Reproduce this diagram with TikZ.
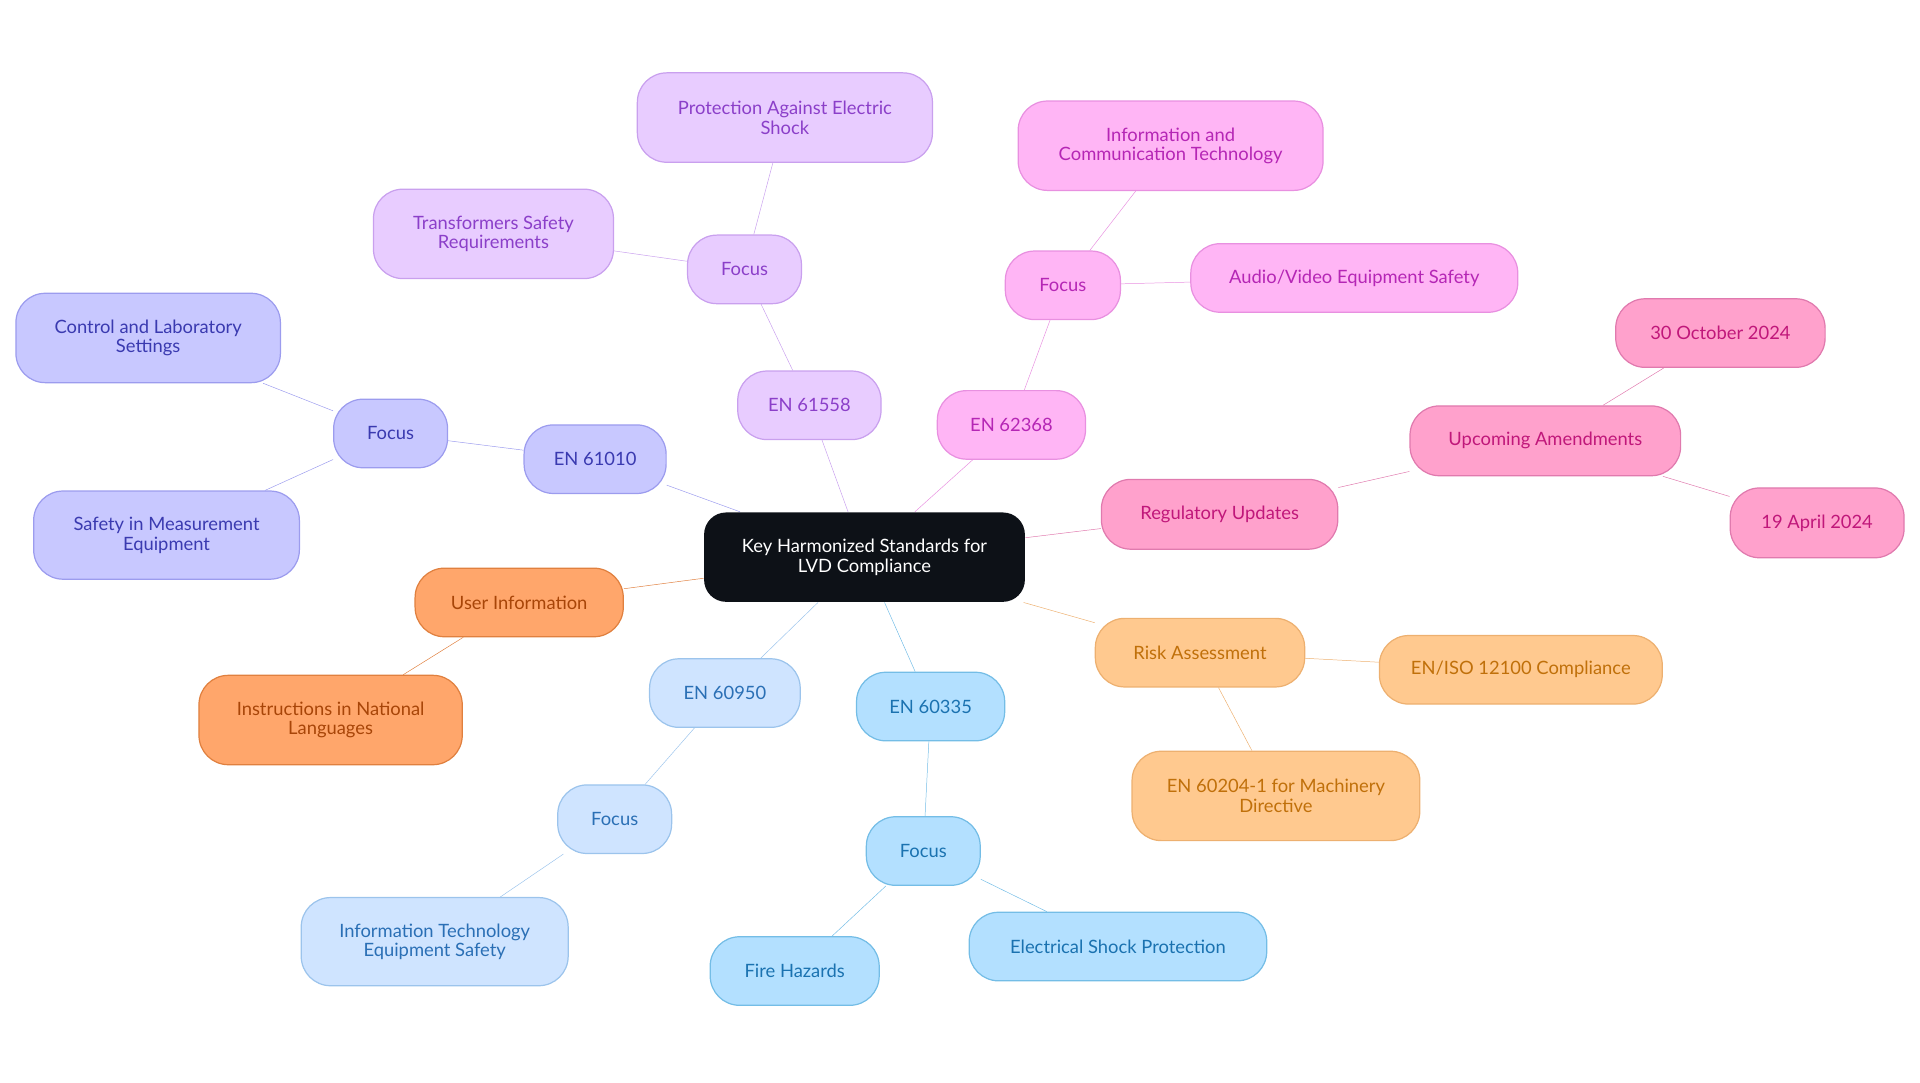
\documentclass[tikz,border=0pt]{standalone}
\usepackage{fontspec}
\setmainfont{Lato}
\usetikzlibrary{backgrounds}

\definecolor{rootfill}{HTML}{0D1117}
\definecolor{pinkfill}{HTML}{FFA1CC}\definecolor{pinkline}{HTML}{E07AAE}\definecolor{pinktext}{HTML}{C0177A}
\definecolor{magfill}{HTML}{FFB5F5}\definecolor{magline}{HTML}{E890E0}\definecolor{magtext}{HTML}{B526B5}
\definecolor{purpfill}{HTML}{E8CCFF}\definecolor{purpline}{HTML}{C9A0EE}\definecolor{purptext}{HTML}{8B3FC9}
\definecolor{indfill}{HTML}{C8C8FF}\definecolor{indline}{HTML}{9C9CEE}\definecolor{indtext}{HTML}{3A3AB0}
\definecolor{orfill}{HTML}{FFA66B}\definecolor{orline}{HTML}{E0803F}\definecolor{ortext}{HTML}{A84508}
\definecolor{ltfill}{HTML}{CFE4FF}\definecolor{ltline}{HTML}{9CC4EC}\definecolor{lttext}{HTML}{2A6FB5}
\definecolor{skyfill}{HTML}{B3E0FF}\definecolor{skyline}{HTML}{74BDE6}\definecolor{skytext}{HTML}{1A72B0}
\definecolor{peachfill}{HTML}{FFC98F}\definecolor{peachline}{HTML}{EDB070}\definecolor{peachtext}{HTML}{C0700A}

\begin{document}
\begin{tikzpicture}[x=1pt,y=-1pt,line width=2pt]
	\tikzstyle{topic}=[rounded corners=24pt,align=center,inner sep=0pt,line width=1pt,
		font=\fontsize{15}{16}\selectfont]
	\tikzstyle{root}=[topic,fill=rootfill,text=white,rounded corners=18pt]
	\tikzstyle{pinkbox}=[topic,fill=pinkfill,draw=pinkline,text=pinktext]
	\tikzstyle{magbox}=[topic,fill=magfill,draw=magline,text=magtext]
	\tikzstyle{purpbox}=[topic,fill=purpfill,draw=purpline,text=purptext]
	\tikzstyle{indbox}=[topic,fill=indfill,draw=indline,text=indtext]
	\tikzstyle{orbox}=[topic,fill=orfill,draw=orline,text=ortext]
	\tikzstyle{ltbox}=[topic,fill=ltfill,draw=ltline,text=lttext]
	\tikzstyle{skybox}=[topic,fill=skyfill,draw=skyline,text=skytext]
	\tikzstyle{peachbox}=[topic,fill=peachfill,draw=peachline,text=peachtext]

	\useasboundingbox (0,0) rectangle (1568,884);

	% Root
	\node[root,minimum width=262pt,minimum height=73pt] (root) at (706,455) {Key Harmonized Standards for\\LVD Compliance};

	% Regulatory updates
	\node[pinkbox,minimum width=193pt,minimum height=57pt] (reg) at (996,420) {Regulatory Updates};
	\node[pinkbox,minimum width=221pt,minimum height=57pt] (amend) at (1262,360) {Upcoming Amendments};
	\node[pinkbox,minimum width=171pt,minimum height=56pt] (oct) at (1405,272) {30 October 2024};
	\node[pinkbox,minimum width=142pt,minimum height=57pt] (apr) at (1484,427) {19 April 2024};

	% EN 62368
	\node[magbox,minimum width=121pt,minimum height=56pt] (en62368) at (826,347) {EN 62368};
	\node[magbox,minimum width=94pt,minimum height=56pt] (f62368) at (868,233) {Focus};
	\node[magbox,minimum width=249pt,minimum height=73pt] (ict) at (956,119) {Information and\\Communication Technology};
	\node[magbox,minimum width=267pt,minimum height=56pt] (av) at (1106,227) {Audio/Video Equipment Safety};

	% EN 61558
	\node[purpbox,minimum width=117pt,minimum height=56pt] (en61558) at (661,331) {EN 61558};
	\node[purpbox,minimum width=93pt,minimum height=56pt] (f61558) at (608,220) {Focus};
	\node[purpbox,minimum width=241pt,minimum height=73pt] (shock) at (641,96) {Protection Against Electric\\Shock};
	\node[purpbox,minimum width=196pt,minimum height=73pt] (trans) at (403,191) {Transformers Safety\\Requirements};

	% EN 61010
	\node[indbox,minimum width=116pt,minimum height=56pt] (en61010) at (486,375) {EN 61010};
	\node[indbox,minimum width=93pt,minimum height=56pt] (f61010) at (319,354) {Focus};
	\node[indbox,minimum width=216pt,minimum height=73pt] (lab) at (121,276) {Control and Laboratory\\Settings};
	\node[indbox,minimum width=217pt,minimum height=72pt] (meas) at (136,437) {Safety in Measurement\\Equipment};

	% User information
	\node[orbox,minimum width=170pt,minimum height=56pt] (user) at (424,492) {User Information};
	\node[orbox,minimum width=215pt,minimum height=73pt] (lang) at (270,588) {Instructions in National\\Languages};

	% EN 60950
	\node[ltbox,minimum width=123pt,minimum height=56pt] (en60950) at (592,566) {EN 60950};
	\node[ltbox,minimum width=93pt,minimum height=56pt] (f60950) at (502,669) {Focus};
	\node[ltbox,minimum width=218pt,minimum height=72pt] (ite) at (355,769) {Information Technology\\Equipment Safety};

	% EN 60335
	\node[skybox,minimum width=121pt,minimum height=56pt] (en60335) at (760,577) {EN 60335};
	\node[skybox,minimum width=93pt,minimum height=56pt] (f60335) at (754,695) {Focus};
	\node[skybox,minimum width=138pt,minimum height=56pt] (fire) at (649,793) {Fire Hazards};
	\node[skybox,minimum width=243pt,minimum height=56pt] (elec) at (913,773) {Electrical Shock Protection};

	% Risk assessment
	\node[peachbox,minimum width=171pt,minimum height=56pt] (risk) at (980,533) {Risk Assessment};
	\node[peachbox,minimum width=231pt,minimum height=56pt] (iso) at (1242,547) {EN/ISO 12100 Compliance};
	\node[peachbox,minimum width=235pt,minimum height=73pt] (mach) at (1042,650) {EN 60204-1 for Machinery\\Directive};

	% Connectors behind the boxes
	\begin{scope}[on background layer]
		\draw[pinkline] (root) -- (reg) -- (amend) -- (oct) (amend) -- (apr);
		\draw[magline] (root) -- (en62368) -- (f62368) -- (ict) (f62368) -- (av);
		\draw[purpline] (root) -- (en61558) -- (f61558) -- (shock) (f61558) -- (trans);
		\draw[indline] (root) -- (en61010) -- (f61010) -- (lab) (f61010) -- (meas);
		\draw[orline] (root) -- (user) -- (lang);
		\draw[ltline] (root) -- (en60950) -- (f60950) -- (ite);
		\draw[skyline] (root) -- (en60335) -- (f60335) -- (fire) (f60335) -- (elec);
		\draw[peachline] (root) -- (risk) -- (iso) (risk) -- (mach);
	\end{scope}
\end{tikzpicture}
\end{document}
